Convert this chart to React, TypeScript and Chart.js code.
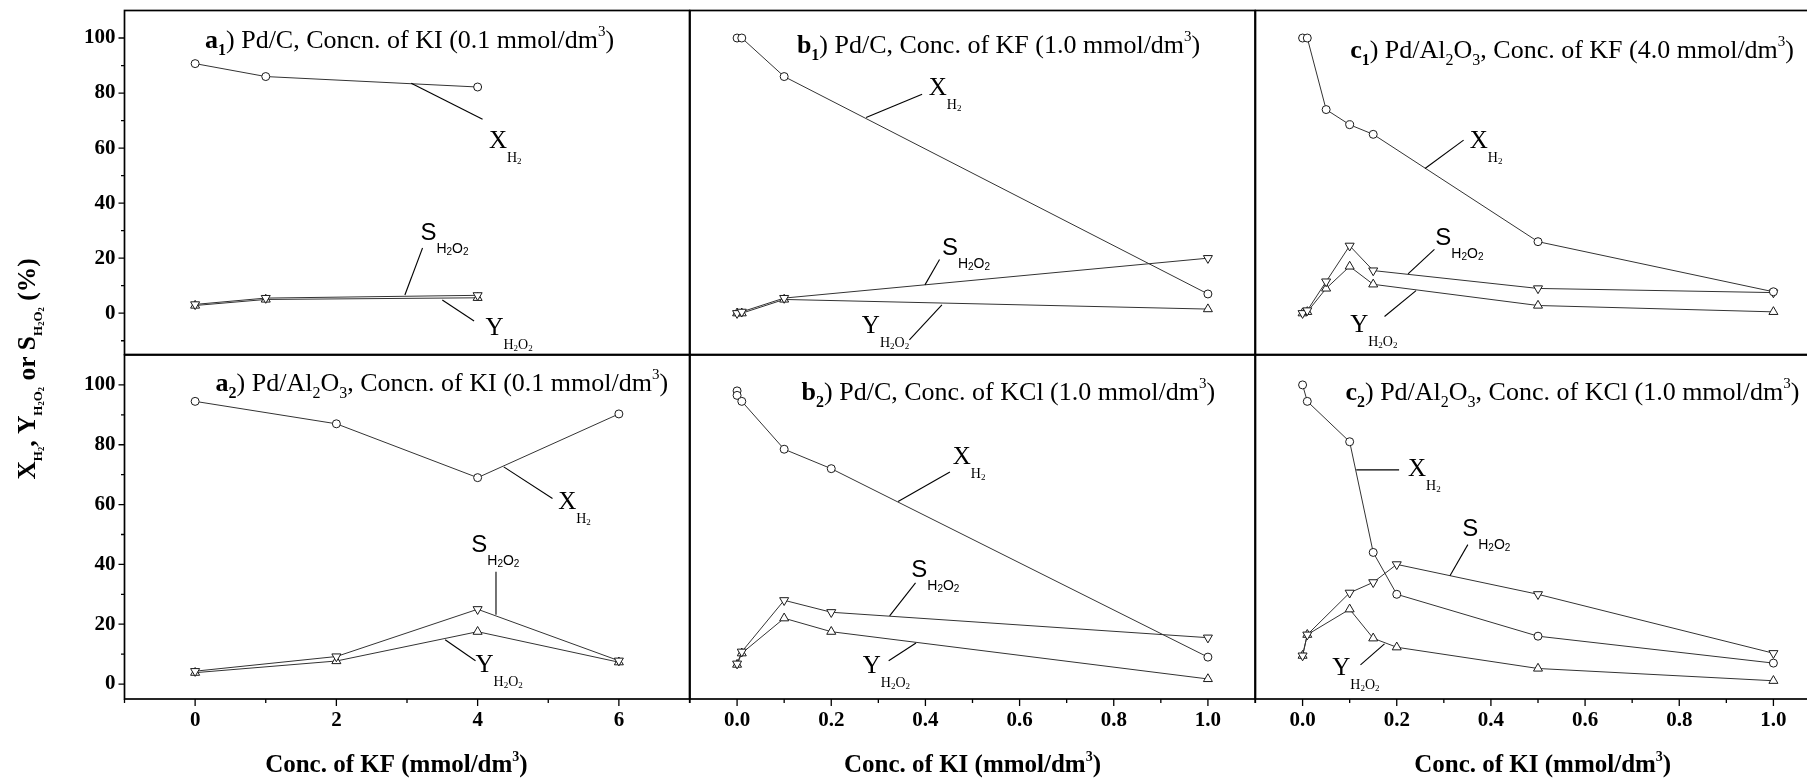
import React, { useEffect, useRef } from 'react';
import { Chart, registerables } from 'chart.js';

Chart.register(...registerables);

const SERIF = '"Liberation Serif", "Times New Roman", Times, serif';
const SANS = '"Liberation Sans", Arial, Helvetica, sans-serif';

// ---------------- data ----------------
// a1) Pd/C, KI 0.1 mmol/dm3, varying KF
const a1KF = [0, 1, 4];
const a1XH2 = [90.7, 86.0, 82.2];
const a1SH2O2 = [3.2, 5.5, 6.5];
const a1YH2O2 = [2.8, 5.0, 5.6];

// b1) Pd/C, KF 1.0 mmol/dm3, varying KI
const b1KI = [0, 0.01, 0.1, 1.0];
const b1XH2 = [100, 100, 86, 7];
const b1SH2O2 = [0, 0.5, 5.5, 20];
const b1YH2O2 = [0, 0, 5, 1.5];

// c1) Pd/Al2O3, KF 4.0 mmol/dm3, varying KI
const c1KI = [0, 0.01, 0.05, 0.1, 0.15, 0.5, 1.0];
const c1XH2 = [100, 100, 74, 68.5, 65, 26, 7.8];
const c1SH2O2 = [0, 1.0, 11.5, 24.5, 15.5, 9, 7.5];
const c1YH2O2 = [0, 0.5, 9, 17, 10.5, 2.8, 0.5];

// a2) Pd/Al2O3, KI 0.1 mmol/dm3, varying KF
const a2KF = [0, 2, 4, 6];
const a2XH2 = [94.5, 87, 69, 90.3];
const a2SH2O2 = [4.3, 9.2, 25, 7.8];
const a2YH2O2 = [3.8, 7.7, 17.5, 7.3];

// b2) Pd/C, KCl 1.0 mmol/dm3, varying KI
const b2KIforX = [0, 0, 0.01, 0.1, 0.2, 1.0];
const b2XH2 = [98, 96.5, 94.5, 78.5, 72, 9];
const b2KI = [0, 0.01, 0.1, 0.2, 1.0];
const b2SH2O2 = [6.8, 10.8, 28, 24, 15.5];
const b2YH2O2 = [6.5, 10.3, 22, 17.5, 1.7];

// c2) Pd/Al2O3, KCl 1.0 mmol/dm3, varying KI
const c2KI = [0, 0.01, 0.1, 0.15, 0.2, 0.5, 1.0];
const c2XH2 = [100, 94.5, 81, 44, 30, 16, 7];
const c2SH2O2 = [9.5, 16.5, 30.5, 34, 40, 30, 10.3];
const c2YH2O2 = [9.5, 16.5, 25, 15.3, 12.3, 5.2, 1.1];

// tick labels
const kfTickLabels = [0, 2, 4, 6];
const kiTickLabels = [0, 0.2, 0.4, 0.6, 0.8, 1.0];
const pctTickLabels = [0, 20, 40, 60, 80, 100];

// ---------------- layout ----------------
const FIG_W = 1807;
const FIG_H = 784;
const CANVAS_W = 1830;
const COL_LEFT = [124.5, 690, 1255.5];
const PANEL_W = 565;
const ROW_TOP = [10.5, 355];
const PANEL_H = 344;
const Y_AXIS_W = 60;
const X_AXIS_H = 40;
const Y_RANGE = [
  [-15, 110],
  [-5, 110],
];
const X_RANGE_KF = [-1, 7];
const X_RANGE_KI = [-0.1, 1.1];

// ---------------- rich text ----------------
type Seg = { t: string; s: number; dy?: number; b?: boolean; f?: string };
const segFont = (g: Seg) => `${g.b ? 'bold ' : ''}${g.s}px ${g.f || SERIF}`;
function richWidth(ctx: CanvasRenderingContext2D, segs: Seg[]) {
  let w = 0;
  for (const g of segs) {
    ctx.font = segFont(g);
    w += ctx.measureText(g.t).width;
  }
  return w;
}
function drawRich(ctx: CanvasRenderingContext2D, segs: Seg[], x: number, y: number) {
  let cx = x;
  ctx.textAlign = 'left';
  ctx.textBaseline = 'alphabetic';
  for (const g of segs) {
    ctx.font = segFont(g);
    ctx.fillText(g.t, cx, y + (g.dy || 0));
    cx += ctx.measureText(g.t).width;
  }
}

const LBL_X: Seg[] = [
  { t: 'X', s: 25 },
  { t: 'H', s: 14, dy: 14 },
  { t: '2', s: 9, dy: 16 },
];
const LBL_Y: Seg[] = [
  { t: 'Y', s: 25 },
  { t: 'H', s: 14, dy: 14 },
  { t: '2', s: 9, dy: 16 },
  { t: 'O', s: 14, dy: 14 },
  { t: '2', s: 9, dy: 16 },
];
const LBL_S: Seg[] = [
  { t: 'S', s: 24, f: SANS },
  { t: 'H', s: 14, dy: 13, f: SANS },
  { t: '2', s: 10, dy: 15, f: SANS },
  { t: 'O', s: 14, dy: 13, f: SANS },
  { t: '2', s: 10, dy: 15, f: SANS },
];

const T = 26;
const sub = (t: string, b = false): Seg => ({ t, s: 16, dy: 7, b });
const sup = (t: string): Seg => ({ t, s: 15, dy: -12 });
const title = (letter: string, idx: string, parts: Seg[]): Seg[] => [
  { t: letter, s: T, b: true },
  sub(idx, true),
  ...parts,
];
const nrm = (t: string): Seg => ({ t, s: T });

const a1Title = title('a', '1', [nrm(') Pd/C, Concn. of KI (0.1 mmol/dm'), sup('3'), nrm(')')]);
const b1Title = title('b', '1', [nrm(') Pd/C, Conc. of KF (1.0 mmol/dm'), sup('3'), nrm(')')]);
const c1Title = title('c', '1', [
  nrm(') Pd/Al'), sub('2'), nrm('O'), sub('3'),
  nrm(', Conc. of KF (4.0 mmol/dm'), sup('3'), nrm(')'),
]);
const a2Title = title('a', '2', [
  nrm(') Pd/Al'), sub('2'), nrm('O'), sub('3'),
  nrm(', Concn. of KI (0.1 mmol/dm'), sup('3'), nrm(')'),
]);
const b2Title = title('b', '2', [nrm(') Pd/C, Conc. of KCl (1.0 mmol/dm'), sup('3'), nrm(')')]);
const c2Title = title('c', '2', [
  nrm(') Pd/Al'), sub('2'), nrm('O'), sub('3'),
  nrm(', Conc. of KCl (1.0 mmol/dm'), sup('3'), nrm(')'),
]);

const xTitle = (salt: string): Seg[] => [
  { t: `Conc. of ${salt} (mmol/dm`, s: 25, b: true },
  { t: '3', s: 14, dy: -11, b: true },
  { t: ')', s: 25, b: true },
];

const YT = 25.5;
const yTitle: Seg[] = [
  { t: 'X', s: YT, b: true },
  { t: 'H', s: 13, dy: 7, b: true },
  { t: '2', s: 8.5, dy: 9, b: true },
  { t: ', Y', s: YT, b: true },
  { t: 'H', s: 13, dy: 7, b: true },
  { t: '2', s: 8.5, dy: 9, b: true },
  { t: 'O', s: 13, dy: 7, b: true },
  { t: '2', s: 8.5, dy: 9, b: true },
  { t: ' or S', s: YT, b: true },
  { t: 'H', s: 13, dy: 7, b: true },
  { t: '2', s: 8.5, dy: 9, b: true },
  { t: 'O', s: 13, dy: 7, b: true },
  { t: '2', s: 8.5, dy: 9, b: true },
  { t: ' (%)', s: YT, b: true },
];

// ---------------- annotations (data units of each panel) ----------------
type Note = { lbl: Seg[]; at: number[]; from: number[]; to: number[] };
const a1Notes: Note[] = [
  { lbl: LBL_X, at: [4.16, 60.0], from: [3.06, 83.6], to: [4.07, 70.5] },
  { lbl: LBL_S, at: [3.19, 26.6], from: [3.22, 23.7], to: [2.97, 6.6] },
  { lbl: LBL_Y, at: [4.11, -7.9], from: [3.5, 4.8], to: [3.95, -2.8] },
];
const b1Notes: Note[] = [
  { lbl: LBL_X, at: [0.407, 79.2], from: [0.274, 71.1], to: [0.393, 79.6] },
  { lbl: LBL_S, at: [0.435, 21.2], from: [0.399, 10.3], to: [0.43, 19.5] },
  { lbl: LBL_Y, at: [0.265, -7.1], from: [0.366, -9.7], to: [0.435, 3.0] },
];
const c1Notes: Note[] = [
  { lbl: LBL_X, at: [0.355, 59.9], from: [0.26, 52.6], to: [0.342, 62.9] },
  { lbl: LBL_S, at: [0.282, 24.8], from: [0.224, 14.3], to: [0.28, 23.2] },
  { lbl: LBL_Y, at: [0.101, -6.7], from: [0.174, -1.2], to: [0.241, 8.2] },
];
const a2Notes: Note[] = [
  { lbl: LBL_X, at: [5.14, 58.4], from: [4.37, 72.6], to: [5.06, 62.0] },
  { lbl: LBL_S, at: [3.91, 44.0], from: [4.26, 37.5], to: [4.26, 23.2] },
  { lbl: LBL_Y, at: [3.97, 4.1], from: [3.54, 14.8], to: [3.97, 7.8] },
];
const b2Notes: Note[] = [
  { lbl: LBL_X, at: [0.458, 73.5], from: [0.342, 61.0], to: [0.452, 70.9] },
  { lbl: LBL_S, at: [0.37, 35.8], from: [0.324, 22.8], to: [0.379, 33.8] },
  { lbl: LBL_Y, at: [0.267, 3.6], from: [0.322, 7.8], to: [0.38, 13.7] },
];
const c2Notes: Note[] = [
  { lbl: LBL_X, at: [0.224, 69.6], from: [0.114, 71.6], to: [0.205, 71.6] },
  { lbl: LBL_S, at: [0.339, 49.4], from: [0.313, 36.2], to: [0.351, 46.6] },
  { lbl: LBL_Y, at: [0.063, 3.0], from: [0.123, 6.4], to: [0.174, 13.4] },
];

type PanelCfg = {
  id: string;
  row: number;
  col: number;
  xX: number[];
  X: number[];
  xSY: number[];
  S: number[];
  Y: number[];
  title: Seg[];
  titleAt: number[];
  notes: Note[];
  xTitle?: Seg[];
  xTitleAt?: number;
};

const PANELS: PanelCfg[] = [
  { id: 'a1', row: 0, col: 0, xX: a1KF, X: a1XH2, xSY: a1KF, S: a1SH2O2, Y: a1YH2O2, title: a1Title, titleAt: [0.14, 96.3], notes: a1Notes },
  { id: 'b1', row: 0, col: 1, xX: b1KI, X: b1XH2, xSY: b1KI, S: b1SH2O2, Y: b1YH2O2, title: b1Title, titleAt: [0.127, 94.4], notes: b1Notes },
  { id: 'c1', row: 0, col: 2, xX: c1KI, X: c1XH2, xSY: c1KI, S: c1SH2O2, Y: c1YH2O2, title: c1Title, titleAt: [0.101, 92.6], notes: c1Notes },
  { id: 'a2', row: 1, col: 0, xX: a2KF, X: a2XH2, xSY: a2KF, S: a2SH2O2, Y: a2YH2O2, title: a2Title, titleAt: [0.29, 98], notes: a2Notes, xTitle: xTitle('KF'), xTitleAt: 2.85 },
  { id: 'b2', row: 1, col: 1, xX: b2KIforX, X: b2XH2, xSY: b2KI, S: b2SH2O2, Y: b2YH2O2, title: b2Title, titleAt: [0.137, 95], notes: b2Notes, xTitle: xTitle('KI'), xTitleAt: 0.5 },
  { id: 'c2', row: 1, col: 2, xX: c2KI, X: c2XH2, xSY: c2KI, S: c2SH2O2, Y: c2YH2O2, title: c2Title, titleAt: [0.091, 95], notes: c2Notes, xTitle: xTitle('KI'), xTitleAt: 0.51 },
];

const near = (list: number[], v: number) => list.some((t) => Math.abs(t - v) < 1e-6);

const TICK_FONT = { family: SERIF, size: 21, weight: 'bold' as const, lineHeight: 1 };

function makeConfig(p: PanelCfg): any {
  const isLeft = p.col === 0;
  const isBottom = p.row === 1;
  const left = COL_LEFT[p.col];
  const top = ROW_TOP[p.row];
  const [ymin, ymax] = Y_RANGE[p.row];
  const [xmin, xmax] = p.col === 0 ? X_RANGE_KF : X_RANGE_KI;
  const xStep = p.col === 0 ? 1 : 0.1;
  const xLabels = p.col === 0 ? kfTickLabels : kiTickLabels;

  const pts = (xs: number[], ys: number[]) => xs.map((x, i) => ({ x, y: ys[i] }));
  const common = {
    borderColor: '#333333',
    borderWidth: 1,
    pointBorderColor: '#1a1a1a',
    pointBackgroundColor: '#ffffff',
    pointBorderWidth: 1,
    tension: 0,
    fill: false,
  };

  const decor = {
    id: 'decor_' + p.id,
    afterDraw(chart: any) {
      const ctx: CanvasRenderingContext2D = chart.ctx;
      const ca = chart.chartArea;
      const xs = chart.scales.x;
      const ys = chart.scales.y;
      ctx.save();
      ctx.strokeStyle = '#000';
      ctx.fillStyle = '#000';
      // ticks
      ctx.lineWidth = 1.3;
      ctx.beginPath();
      if (isLeft) {
        for (let v = Math.ceil(ymin / 10) * 10; v <= ymax; v += 10) {
          const py = ys.getPixelForValue(v);
          if (py < ca.top + 1 || py > ca.bottom - 1) continue;
          const len = near(pctTickLabels, v) ? 6 : 3.5;
          ctx.moveTo(ca.left - len, py);
          ctx.lineTo(ca.left, py);
        }
      }
      if (isBottom) {
        const n = Math.round((xmax - xmin) / xStep);
        for (let k = 0; k <= n; k++) {
          const v = Math.round((xmin + k * xStep) * 1000) / 1000;
          const px = xs.getPixelForValue(v);
          const len = near(xLabels, v) ? 7 : 4;
          ctx.moveTo(px, ca.bottom);
          ctx.lineTo(px, ca.bottom + len);
        }
      }
      ctx.stroke();
      // frame
      ctx.lineWidth = 1.7;
      ctx.strokeRect(ca.left, ca.top, ca.right - ca.left, ca.bottom - ca.top);
      // panel title
      drawRich(ctx, p.title, xs.getPixelForValue(p.titleAt[0]), ys.getPixelForValue(p.titleAt[1]));
      // annotations
      ctx.lineWidth = 1.1;
      for (const n of p.notes) {
        ctx.beginPath();
        ctx.moveTo(xs.getPixelForValue(n.from[0]), ys.getPixelForValue(n.from[1]));
        ctx.lineTo(xs.getPixelForValue(n.to[0]), ys.getPixelForValue(n.to[1]));
        ctx.stroke();
        drawRich(ctx, n.lbl, xs.getPixelForValue(n.at[0]), ys.getPixelForValue(n.at[1]));
      }
      // x axis title
      if (p.xTitle && p.xTitleAt !== undefined) {
        const w = richWidth(ctx, p.xTitle);
        drawRich(ctx, p.xTitle, xs.getPixelForValue(p.xTitleAt) - w / 2, 772);
      }
      // shared y axis title
      if (p.id === 'a1') {
        const w = richWidth(ctx, yTitle);
        ctx.translate(35, 369);
        ctx.rotate(-Math.PI / 2);
        drawRich(ctx, yTitle, -w / 2, 0);
      }
      ctx.restore();
    },
  };

  return {
    type: 'line',
    data: {
      datasets: [
        { ...common, label: 'X_H2', data: pts(p.xX, p.X), pointStyle: 'circle', pointRadius: 4 },
        { ...common, label: 'S_H2O2', data: pts(p.xSY, p.S), pointStyle: 'triangle', pointRotation: 180, pointRadius: 5.2 },
        { ...common, label: 'Y_H2O2', data: pts(p.xSY, p.Y), pointStyle: 'triangle', pointRadius: 5.2 },
      ],
    },
    options: {
      animation: false,
      responsive: false,
      devicePixelRatio: 1,
      events: [],
      layout: {
        padding: {
          left: isLeft ? left - Y_AXIS_W : left,
          right: CANVAS_W - (left + PANEL_W),
          top,
          bottom: FIG_H - (top + PANEL_H) - (isBottom ? X_AXIS_H : 0),
        },
      },
      plugins: { legend: { display: false }, tooltip: { enabled: false }, title: { display: false } },
      scales: {
        x: {
          type: 'linear',
          position: 'bottom',
          min: xmin,
          max: xmax,
          display: isBottom,
          grid: { display: false, drawTicks: false },
          border: { display: false },
          ticks: {
            autoSkip: false,
            maxRotation: 0,
            padding: 11,
            color: '#000',
            font: TICK_FONT,
            callback: (v: number) => (p.col === 0 ? String(Math.round(v)) : v.toFixed(1)),
          },
          afterBuildTicks: (s: any) => {
            s.ticks = xLabels.map((v) => ({ value: v }));
          },
          afterFit: (s: any) => {
            if (isBottom) s.height = X_AXIS_H;
            s.paddingLeft = 0;
            s.paddingRight = 0;
          },
        },
        y: {
          type: 'linear',
          position: 'left',
          min: ymin,
          max: ymax,
          display: isLeft,
          grid: { display: false, drawTicks: false },
          border: { display: false },
          ticks: {
            autoSkip: false,
            padding: 9,
            color: '#000',
            font: TICK_FONT,
            callback: (v: number) => String(Math.round(v)),
          },
          afterBuildTicks: (s: any) => {
            s.ticks = pctTickLabels.map((v) => ({ value: v }));
          },
          afterFit: (s: any) => {
            if (isLeft) s.width = Y_AXIS_W;
            s.paddingTop = 0;
            s.paddingBottom = 0;
          },
        },
      },
    },
    plugins: [decor],
  };
}

function Panel({ cfg }: { cfg: PanelCfg }) {
  const ref = useRef<HTMLCanvasElement>(null);
  useEffect(() => {
    if (!ref.current) return;
    const chart = new Chart(ref.current, makeConfig(cfg));
    return () => chart.destroy();
  }, [cfg]);
  return (
    <canvas
      ref={ref}
      width={CANVAS_W}
      height={FIG_H}
      style={{ position: 'absolute', left: 0, top: 0, width: CANVAS_W, height: FIG_H }}
    />
  );
}

export default function App() {
  return (
    <div
      style={{
        position: 'absolute',
        left: 0,
        top: 0,
        width: FIG_W,
        height: FIG_H,
        overflow: 'hidden',
        background: '#ffffff',
      }}
    >
      {PANELS.map((p) => (
        <Panel key={p.id} cfg={p} />
      ))}
    </div>
  );
}
